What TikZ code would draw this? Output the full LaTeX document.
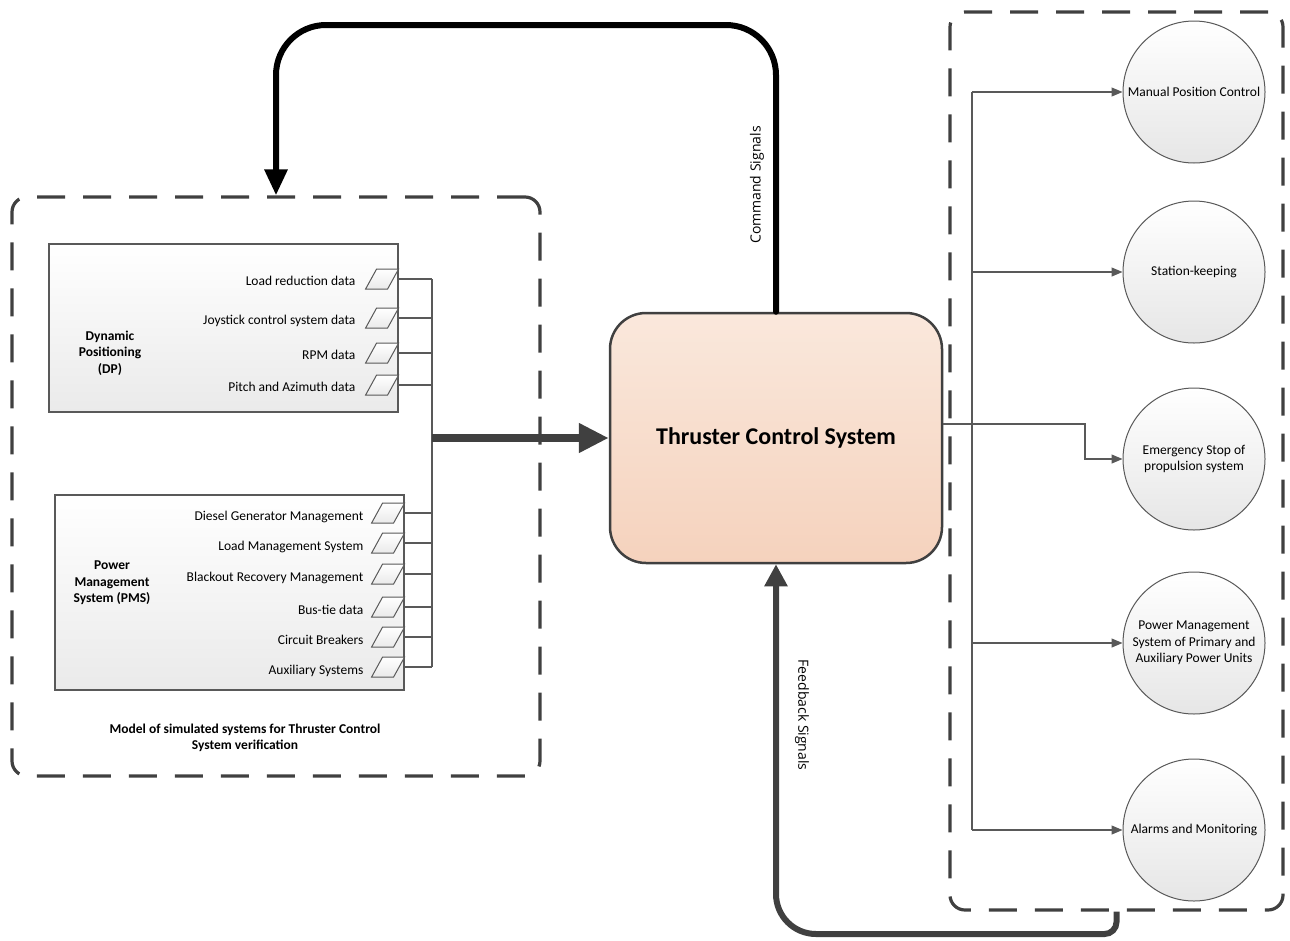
\documentclass[tikz,border=0pt]{standalone}
\usepackage{fontspec}
\setmainfont{Carlito}
\newfontfamily\osans{Open Sans}
\usetikzlibrary{arrows.meta,calc}
\definecolor{dg}{HTML}{404040}
\definecolor{lg}{HTML}{595959}
\definecolor{tcstop}{HTML}{FAE8DC}
\definecolor{tcsbot}{HTML}{F5D2BD}
\definecolor{boxbot}{HTML}{EAEAEA}
\definecolor{circbot}{HTML}{E6E6E6}
\tikzset{
  every node/.style={font=\fontsize{13.5}{16.5}\selectfont, inner sep=0pt},
  dashbox/.style={draw=dg, line width=3.2pt, dash pattern=on 28pt off 18pt, rounded corners=15pt},
  sysbox/.style={draw=lg, line width=1.2pt, top color=white, bottom color=boxbot},
  tcsbox/.style={draw=dg, line width=2.5pt, rounded corners=36pt, top color=tcstop, bottom color=tcsbot},
  func/.style={circle, draw=lg, line width=1pt, top color=white, bottom color=circbot, minimum size=142pt, align=center},
  conn/.style={draw=lg, line width=1.2pt},
  fconn/.style={conn, -{Triangle[length=11pt,width=9pt]}},
  portshape/.style={draw=lg, line width=1pt, top color=white, bottom color=boxbot},
  itemlbl/.style={anchor=base east},
  boldlbl/.style={font=\fontsize{13.5}{16.5}\selectfont\bfseries, align=center},
  sigl/.style={font=\osans\fontsize{14}{16}\selectfont},
  port/.pic={\path[portshape] (0,-10) -- (-22,-10) -- (-33,10) -- (-11,10) -- cycle;}
}
\begin{document}
\begin{tikzpicture}[x=1pt,y=-1pt]
\useasboundingbox (0,0) rectangle (1290,940);

% containers
\node[dashbox, minimum width=528pt, minimum height=579pt] (simbox) at (276,486.5) {};
\node[dashbox, minimum width=333pt, minimum height=898pt] (rbox) at (1116.5,461) {};

% system boxes
\node[sysbox, minimum width=349pt, minimum height=168pt] (dp) at (223.5,328) {};
\node[sysbox, minimum width=349pt, minimum height=195pt] (pms) at (229.5,592.5) {};
\node[boldlbl] (dplbl) at (110,353) {Dynamic\\Positioning\\(DP)};
\node[boldlbl] (pmslbl) at (112,583) {Power\\Management\\System (PMS)};
\node[boldlbl] (cap) at (245,738) {Model of simulated systems for Thruster Control\\System verification};

% TCS
\node[tcsbox, minimum width=332pt, minimum height=250pt] (tcs) at (776,438)
  {\fontsize{24}{28}\selectfont\bfseries Thruster Control System};

\coordinate (bus) at (432,0);

\foreach \y/\t [count=\i] in {279/Load reduction data, 318/Joystick control system data, 353/RPM data, 385/Pitch and Azimuth data}{
  \coordinate (dp\i) at (dp.east |- 0,\y);
  \pic at (dp\i) {port};
  \node[itemlbl] (dpl\i) at ($(dp\i)+(-43,6.5)$) {\t};
  \draw[conn] (dp\i) -- (dp\i -| bus);
}
\foreach \y/\t [count=\i] in {513/Diesel Generator Management, 543/Load Management System, 574/Blackout Recovery Management, 607/Bus-tie data, 637/Circuit Breakers, 667/Auxiliary Systems}{
  \coordinate (pm\i) at (pms.east |- 0,\y);
  \pic at (pm\i) {port};
  \node[itemlbl] (pml\i) at ($(pm\i)+(-41,7)$) {\t};
  \draw[conn] (pm\i) -- (pm\i -| bus);
}
\draw[conn] (dp1 -| bus) -- (pm6 -| bus);
\draw[dg, line width=8pt, -{Triangle[length=30pt,width=28pt]}] (bus |- tcs.west) -- (tcs.west);

% command signals
\coordinate (cmdtop) at (500,25);
\draw[black, line width=6pt, line cap=round, rounded corners=50pt, -{Triangle[length=26pt,width=22pt]}]
  (tcs.north) |- (simbox.north |- cmdtop) -- (simbox.north);
\node[sigl, rotate=90] (cmdl) at (757,185) {Command Signals};

% feedback signals
\coordinate (fbbot) at (900,934);
\draw[dg, line width=6pt, rounded corners=12pt, -{Triangle[length=22pt,width=22pt]}]
  (rbox.south) -- (rbox.south |- fbbot) [rounded corners=40pt] -- (tcs.south |- fbbot) -- (tcs.south);
\node[sigl, rotate=-90] (fbl) at (802,715) {Feedback Signals};

% functions
\node[func] (c1) at (1194,92) {Manual Position Control};
\node[func] (c2) at (1194,272) {Station-keeping};
\node[func] (c3) at (1194,459) {Emergency Stop of\\propulsion system};
\node[func] (c4) at (1194,643) {Power Management\\System of Primary and\\Auxiliary Power Units};
\node[func] (c5) at (1194,830) {Alarms and Monitoring};

\coordinate (rbus) at (972,0);
\draw[conn] (rbus |- c1.west) -- (rbus |- c5.west);
\foreach \c in {c1,c2,c4,c5} \draw[fconn] (rbus |- \c.west) -- (\c.west);
\coordinate (tcsout) at ($(tcs.east)+(0,-14)$);
\coordinate (esb) at (1085,0);
\draw[fconn] (tcsout) -| (esb |- c3.west) -- (c3.west);
\end{tikzpicture}
\end{document}
